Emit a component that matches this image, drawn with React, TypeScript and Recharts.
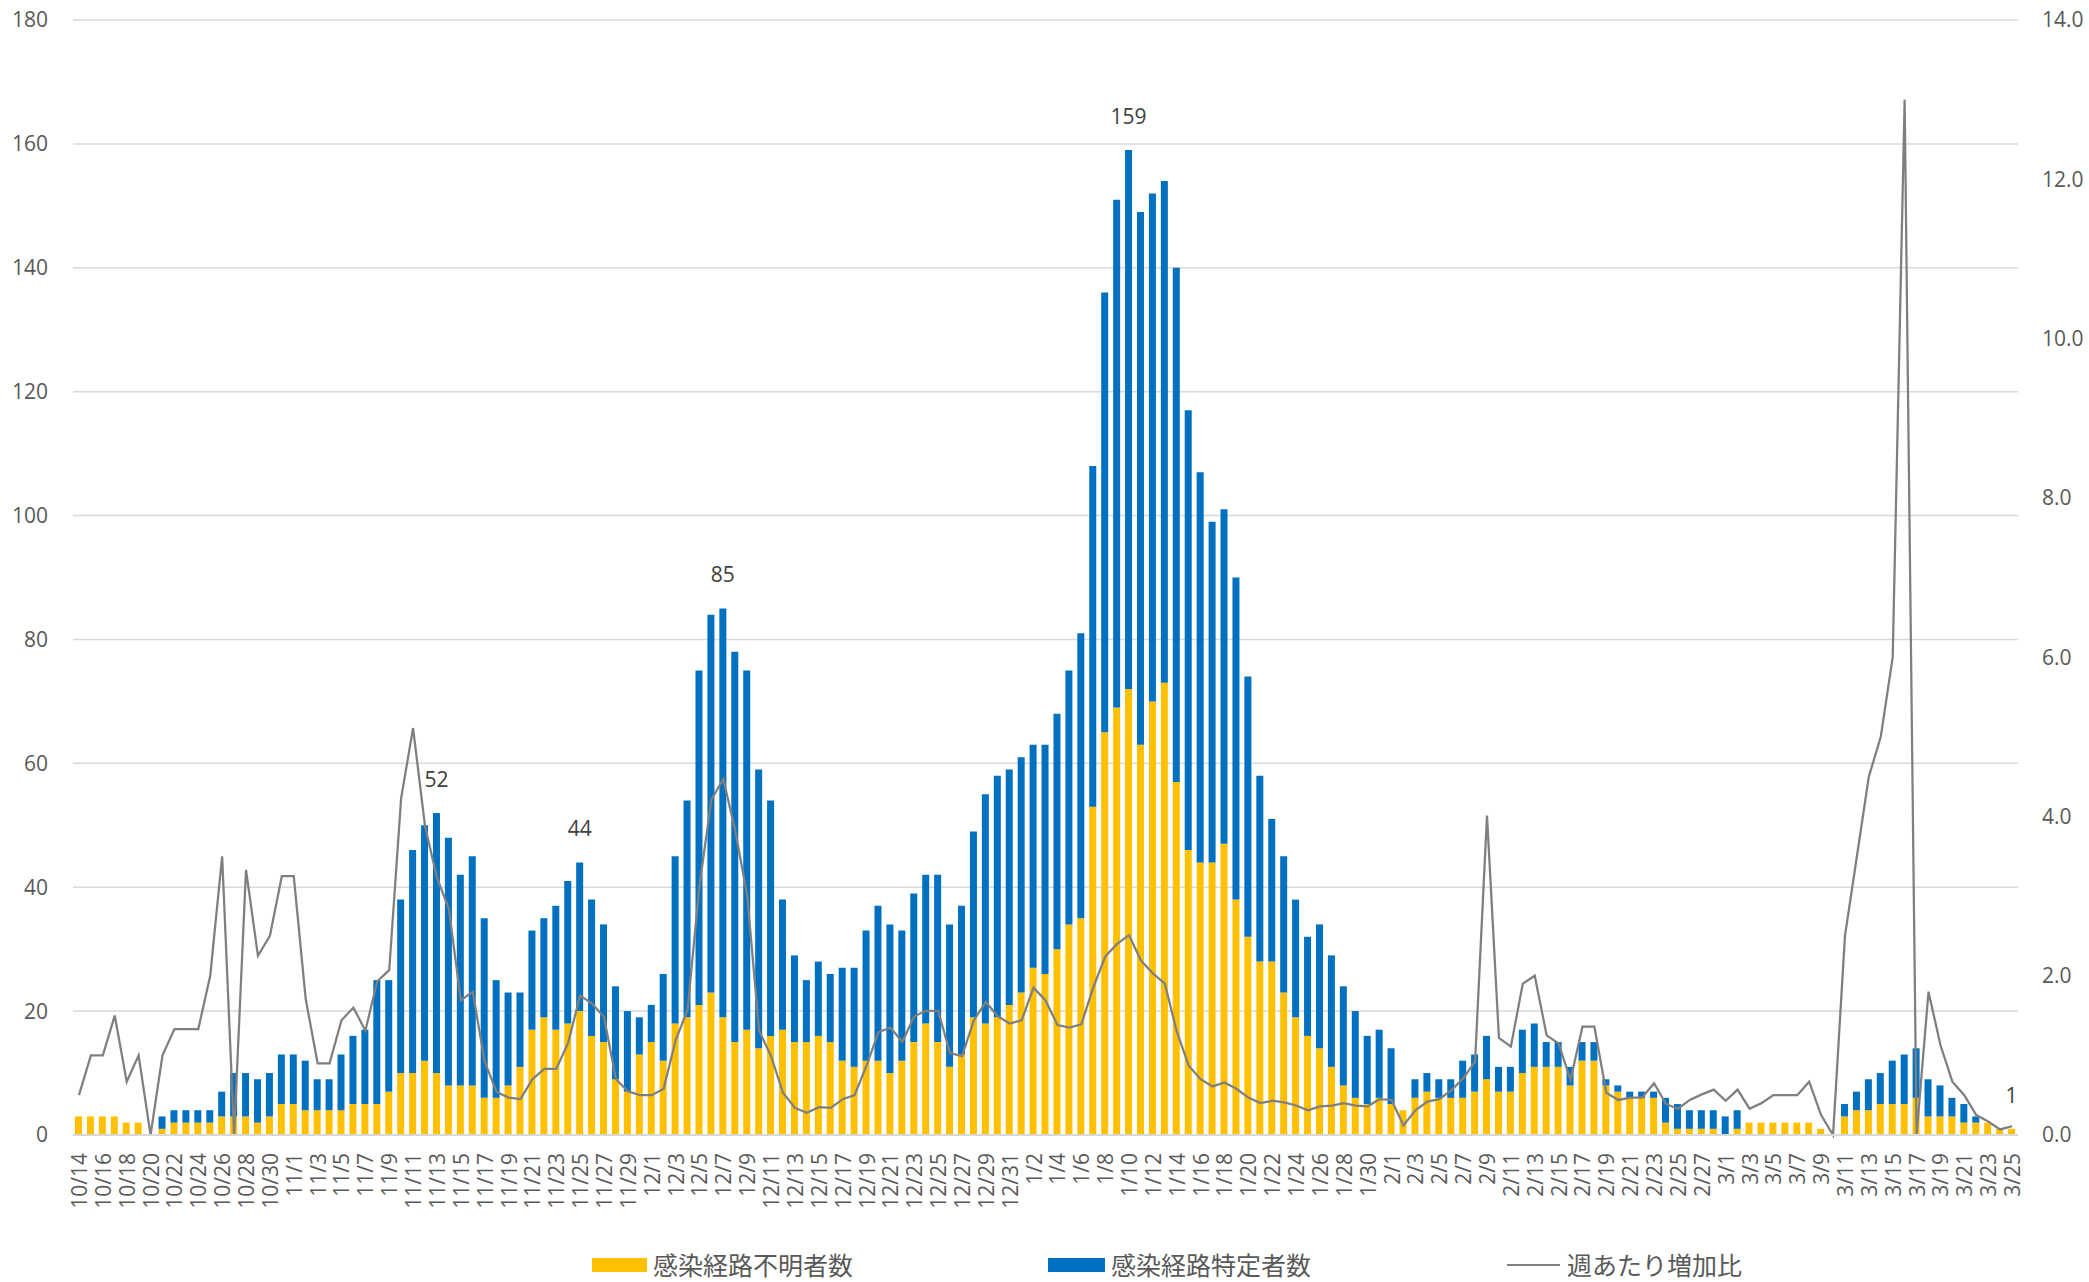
import { ComposedChart, Bar, Line, XAxis, YAxis, CartesianGrid, Legend, LabelList } from 'recharts'

// 日付 (10/14 ~ 3/25)
const dates = [
  '10/14', '10/15', '10/16', '10/17', '10/18', '10/19', '10/20', '10/21', '10/22', '10/23', '10/24', '10/25', '10/26', '10/27', '10/28', '10/29', '10/30', '10/31',
  '11/1', '11/2', '11/3', '11/4', '11/5', '11/6', '11/7', '11/8', '11/9', '11/10', '11/11', '11/12', '11/13', '11/14', '11/15',
  '11/16', '11/17', '11/18', '11/19', '11/20', '11/21', '11/22', '11/23', '11/24', '11/25', '11/26', '11/27', '11/28', '11/29', '11/30',
  '12/1', '12/2', '12/3', '12/4', '12/5', '12/6', '12/7', '12/8', '12/9', '12/10', '12/11', '12/12', '12/13', '12/14', '12/15', '12/16',
  '12/17', '12/18', '12/19', '12/20', '12/21', '12/22', '12/23', '12/24', '12/25', '12/26', '12/27', '12/28', '12/29', '12/30', '12/31',
  '1/1', '1/2', '1/3', '1/4', '1/5', '1/6', '1/7', '1/8', '1/9', '1/10', '1/11', '1/12', '1/13', '1/14', '1/15', '1/16',
  '1/17', '1/18', '1/19', '1/20', '1/21', '1/22', '1/23', '1/24', '1/25', '1/26', '1/27', '1/28', '1/29', '1/30', '1/31',
  '2/1', '2/2', '2/3', '2/4', '2/5', '2/6', '2/7', '2/8', '2/9', '2/10', '2/11', '2/12', '2/13', '2/14',
  '2/15', '2/16', '2/17', '2/18', '2/19', '2/20', '2/21', '2/22', '2/23', '2/24', '2/25', '2/26', '2/27', '2/28',
  '3/1', '3/2', '3/3', '3/4', '3/5', '3/6', '3/7', '3/8', '3/9', '3/10', '3/11', '3/12', '3/13',
  '3/14', '3/15', '3/16', '3/17', '3/18', '3/19', '3/20', '3/21', '3/22', '3/23', '3/24', '3/25',
]

// 感染経路不明者数
const unknownCases = [
  3, 3, 3, 3, 2, 2, 0, 1, 2, 2, 2, 2, 3, 3, 3, 2, 3, 5,
  5, 4, 4, 4, 4, 5, 5, 5, 7, 10, 10, 12, 10, 8, 8,
  8, 6, 6, 8, 11, 17, 19, 17, 18, 20, 16, 15, 9, 7, 13,
  15, 12, 18, 19, 21, 23, 19, 15, 17, 14, 16, 17, 15, 15, 16, 15,
  12, 11, 12, 12, 10, 12, 15, 18, 15, 11, 13, 19, 18, 19, 21,
  23, 27, 26, 30, 34, 35, 53, 65, 69, 72, 63, 70, 73, 57, 46, 44,
  44, 47, 38, 32, 28, 28, 23, 19, 16, 14, 11, 8, 6, 5, 6,
  5, 4, 6, 7, 6, 6, 6, 7, 9, 7, 7, 10, 11, 11,
  11, 8, 12, 12, 8, 7, 6, 6, 6, 2, 1, 1, 1, 1,
  0, 1, 2, 2, 2, 2, 2, 2, 1, 0, 3, 4, 4,
  5, 5, 5, 6, 3, 3, 3, 2, 2, 2, 1, 1,
]

// 感染経路特定者数
const knownCases = [
  0, 0, 0, 0, 0, 0, 0, 2, 2, 2, 2, 2, 4, 7, 7, 7, 7, 8,
  8, 8, 5, 5, 9, 11, 12, 20, 18, 28, 36, 38, 42, 40, 34,
  37, 29, 19, 15, 12, 16, 16, 20, 23, 24, 22, 19, 15, 13, 6,
  6, 14, 27, 35, 54, 61, 66, 63, 58, 45, 38, 21, 14, 10, 12, 11,
  15, 16, 21, 25, 24, 21, 24, 24, 27, 23, 24, 30, 37, 39, 38,
  38, 36, 37, 38, 41, 46, 55, 71, 82, 87, 86, 82, 81, 83, 71, 63,
  55, 54, 52, 42, 30, 23, 22, 19, 16, 20, 18, 16, 14, 11, 11,
  9, 0, 3, 3, 3, 3, 6, 6, 7, 4, 4, 7, 7, 4,
  4, 3, 3, 3, 1, 1, 1, 1, 1, 4, 4, 3, 3, 3,
  3, 3, 0, 0, 0, 0, 0, 0, 0, 0, 2, 3, 5,
  5, 7, 8, 8, 6, 5, 3, 3, 1, 0, 0, 0,
]

// 週あたり増加比
const weeklyRatio = [
  0.5, 1.0, 1.0, 1.5, 0.67, 1.0, 0, 1.0, 1.33, 1.33, 1.33, 2.0, 3.5, 0, 3.33, 2.25, 2.5, 3.25,
  3.25, 1.71, 0.9, 0.9, 1.44, 1.6, 1.31, 1.93, 2.07, 4.23, 5.11, 3.88, 3.23, 2.84, 1.69,
  1.8, 0.92, 0.54, 0.47, 0.45, 0.7, 0.83, 0.83, 1.16, 1.75, 1.65, 1.48, 0.7, 0.55, 0.5,
  0.5, 0.58, 1.19, 1.57, 3.13, 4.21, 4.47, 3.82, 3.01, 1.31, 0.99, 0.53, 0.34, 0.28, 0.35, 0.34,
  0.45, 0.5, 0.87, 1.29, 1.35, 1.17, 1.49, 1.56, 1.56, 1.03, 0.99, 1.44, 1.67, 1.49, 1.4,
  1.44, 1.85, 1.69, 1.38, 1.35, 1.39, 1.85, 2.24, 2.4, 2.51, 2.19, 2.03, 1.9, 1.3, 0.87, 0.7,
  0.61, 0.66, 0.58, 0.47, 0.4, 0.43, 0.41, 0.37, 0.31, 0.36, 0.37, 0.4, 0.37, 0.36, 0.45,
  0.44, 0.12, 0.31, 0.42, 0.45, 0.56, 0.71, 0.92, 4.01, 1.22, 1.11, 1.9, 2.0, 1.25,
  1.15, 0.69, 1.36, 1.36, 0.53, 0.44, 0.47, 0.47, 0.65, 0.39, 0.33, 0.44, 0.51, 0.57,
  0.43, 0.57, 0.33, 0.4, 0.5, 0.5, 0.5, 0.67, 0.25, 0, 2.5, 3.5, 4.5,
  5.0, 6.0, 13.0, 0, 1.8, 1.13, 0.67, 0.5, 0.25, 0.17, 0.07, 0.11,
]

// 合計を表示する日
const labeledDays = ['11/13', '11/25', '12/7', '1/10', '3/25']

const leftTicks = [0, 20, 40, 60, 80, 100, 120, 140, 160, 180]
const rightTicks = [0, 2, 4, 6, 8, 10, 12, 14]

const chartData = dates.map((date, i) => {
  const total = unknownCases[i] + knownCases[i]
  const labeled = labeledDays.includes(date)
  return {
    date,
    unknown: unknownCases[i],
    known: knownCases[i],
    ratio: weeklyRatio[i],
    // 上に積まれた棒がない日は下の棒にラベルを付ける
    peakTop: labeled && knownCases[i] > 0 ? total : null,
    peakLow: labeled && knownCases[i] === 0 ? total : null,
  }
})

const TEXT = '#595959'

function DateTick({ x, y, payload }: any) {
  return (
    <text
      x={x}
      y={y}
      transform={`rotate(-90, ${x}, ${y})`}
      textAnchor="end"
      dominantBaseline="central"
      fill={TEXT}
      fontSize={21}
    >
      {payload.value}
    </text>
  )
}

function PeakLabel(props: any) {
  const { x, y, width, value } = props
  if (value == null) return null
  return (
    <text
      x={Number(x) + Number(width) / 2}
      y={Number(y) - 34}
      textAnchor="middle"
      dominantBaseline="central"
      fill="#404040"
      fontSize={21}
    >
      {value}
    </text>
  )
}

function ChartLegend() {
  const label = { fontSize: 25, color: TEXT, lineHeight: '30px', whiteSpace: 'nowrap' as const }
  return (
    <div style={{ height: 52, paddingTop: 20, boxSizing: 'border-box' }}>
      <div style={{ display: 'flex', alignItems: 'center', height: 30, paddingLeft: 592 }}>
        <span style={{ width: 55, height: 14, background: '#FFC000', marginRight: 6 }} />
        <span style={label}>感染経路不明者数</span>
        <span style={{ width: 57, height: 14, background: '#0070C0', marginLeft: 195, marginRight: 6 }} />
        <span style={label}>感染経路特定者数</span>
        <span style={{ width: 53, height: 2.5, background: '#7F7F7F', marginLeft: 196, marginRight: 7 }} />
        <span style={label}>週あたり増加比</span>
      </div>
    </div>
  )
}

export default function App() {
  return (
    <div
      style={{
        position: 'absolute',
        left: 0,
        top: 0,
        width: 2089,
        height: 1282,
        background: '#fff',
        fontFamily: '"Open Sans", "Noto Sans CJK JP", sans-serif',
      }}
    >
      <ComposedChart
        width={2089}
        height={1282}
        data={chartData}
        margin={{ top: 20, right: 0, bottom: 0, left: 0 }}
        barSize={7}
      >
        <CartesianGrid yAxisId="left" vertical={false} stroke="#D9D9D9" strokeWidth={1.5} />
        <XAxis
          dataKey="date"
          height={95}
          interval={1}
          tickLine={false}
          tickSize={0}
          tickMargin={18}
          axisLine={{ stroke: '#D9D9D9', strokeWidth: 2 }}
          tick={<DateTick />}
        />
        <YAxis
          yAxisId="left"
          domain={[0, 180]}
          ticks={leftTicks}
          width={73}
          axisLine={false}
          tickLine={false}
          tickMargin={19}
          tick={{ fill: TEXT, fontSize: 21 }}
        />
        <YAxis
          yAxisId="right"
          orientation="right"
          domain={[0, 14]}
          ticks={rightTicks}
          width={71}
          axisLine={false}
          tickLine={false}
          tickMargin={18}
          tickFormatter={(v: number) => v.toFixed(1)}
          tick={{ fill: TEXT, fontSize: 21 }}
        />
        <Bar yAxisId="left" dataKey="unknown" stackId="a" fill="#FFC000" isAnimationActive={false}>
          <LabelList dataKey="peakLow" content={<PeakLabel />} />
        </Bar>
        <Bar yAxisId="left" dataKey="known" stackId="a" fill="#0070C0" isAnimationActive={false}>
          <LabelList dataKey="peakTop" content={<PeakLabel />} />
        </Bar>
        <Line
          yAxisId="right"
          type="linear"
          dataKey="ratio"
          stroke="#7F7F7F"
          strokeWidth={2.25}
          dot={false}
          activeDot={false}
          isAnimationActive={false}
        />
        <Legend verticalAlign="bottom" height={52} content={<ChartLegend />} wrapperStyle={{ left: 0, width: 2089 }} />
      </ComposedChart>
    </div>
  )
}
